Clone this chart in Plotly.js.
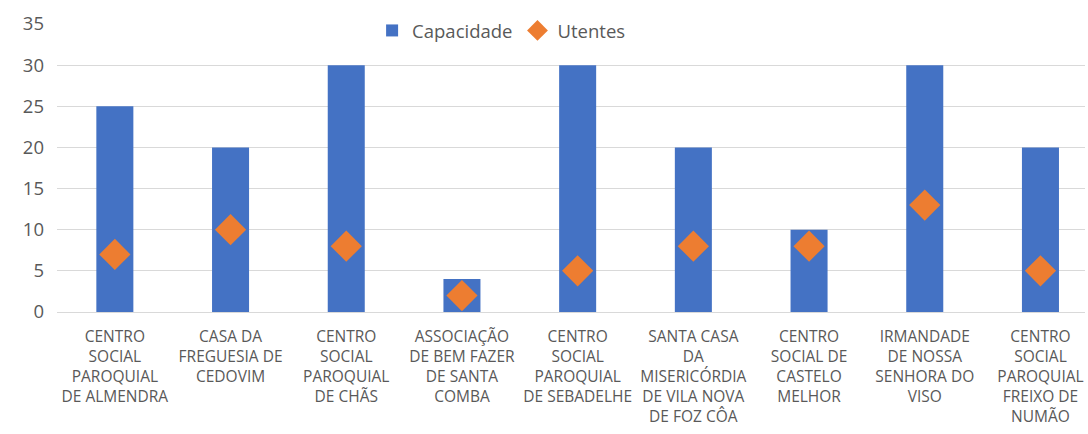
<!DOCTYPE html>
<html><head><meta charset="utf-8">
<script src="https://cdn.plot.ly/plotly-3.0.1.min.js"></script>
<style>html,body{margin:0;padding:0;background:#fff}#chart{width:1088px;height:434px}</style>
</head><body><div id="chart"></div>
<script>
const categories = [
  "CENTRO<br>SOCIAL<br>PAROQUIAL<br>DE ALMENDRA",
  "CASA DA<br>FREGUESIA DE<br>CEDOVIM",
  "CENTRO<br>SOCIAL<br>PAROQUIAL<br>DE CHÃS",
  "ASSOCIAÇÃO<br>DE BEM FAZER<br>DE SANTA<br>COMBA",
  "CENTRO<br>SOCIAL<br>PAROQUIAL<br>DE SEBADELHE",
  "SANTA CASA<br>DA<br>MISERICÓRDIA<br>DE VILA NOVA<br>DE FOZ CÔA",
  "CENTRO<br>SOCIAL DE<br>CASTELO<br>MELHOR",
  "IRMANDADE<br>DE NOSSA<br>SENHORA DO<br>VISO",
  "CENTRO<br>SOCIAL<br>PAROQUIAL<br>FREIXO DE<br>NUMÃO"
];
const capacidade = [25, 20, 30, 4, 30, 20, 10, 30, 20];
const utentes = [7, 10, 8, 2, 5, 8, 8, 13, 5];
const yTicks = [0, 5, 10, 15, 20, 25, 30, 35];

const fontFam = "Open Sans, Liberation Sans, sans-serif";
const data = [
  {type: "bar", name: "Capacidade", x: categories, y: capacidade,
   marker: {color: "#4472C4"}},
  {type: "scatter", mode: "markers", name: "Utentes", x: categories, y: utentes,
   marker: {symbol: "diamond", color: "#ED7D31", size: 24}}
];
const layout = {
  width: 1088, height: 434,
  margin: {l: 57, r: 3, t: 24, b: 122, autoexpand: false},
  paper_bgcolor: "#fff", plot_bgcolor: "#fff",
  font: {family: fontFam, color: "#595959"},
  bargap: 0.68,
  showlegend: true,
  legend: {orientation: "h", x: 0.432, xanchor: "center", y: 0.976, yanchor: "middle",
           bgcolor: "rgba(0,0,0,0)", font: {size: 18.5, color: "#595959"}, traceorder: "normal",
           itemwidth: 30},
  xaxis: {tickfont: {size: 15.5, color: "#595959"}, showgrid: false, showline: true,
          linecolor: "#d9d9d9", linewidth: 1, ticks: "", tickangle: 0, fixedrange: true,
          automargin: false, range: [-0.5, 8.385], ticklabelstandoff: 10},
  yaxis: {range: [0, 35], tickvals: yTicks, showgrid: true, gridcolor: "#d9d9d9", gridwidth: 1,
          zeroline: false, tickfont: {size: 18.5, color: "#595959"}, ticks: "", ticklabelstandoff: 12,
          fixedrange: true, automargin: false}
};
Plotly.newPlot("chart", data, layout, {displayModeBar: false, staticPlot: true});
</script></body></html>
